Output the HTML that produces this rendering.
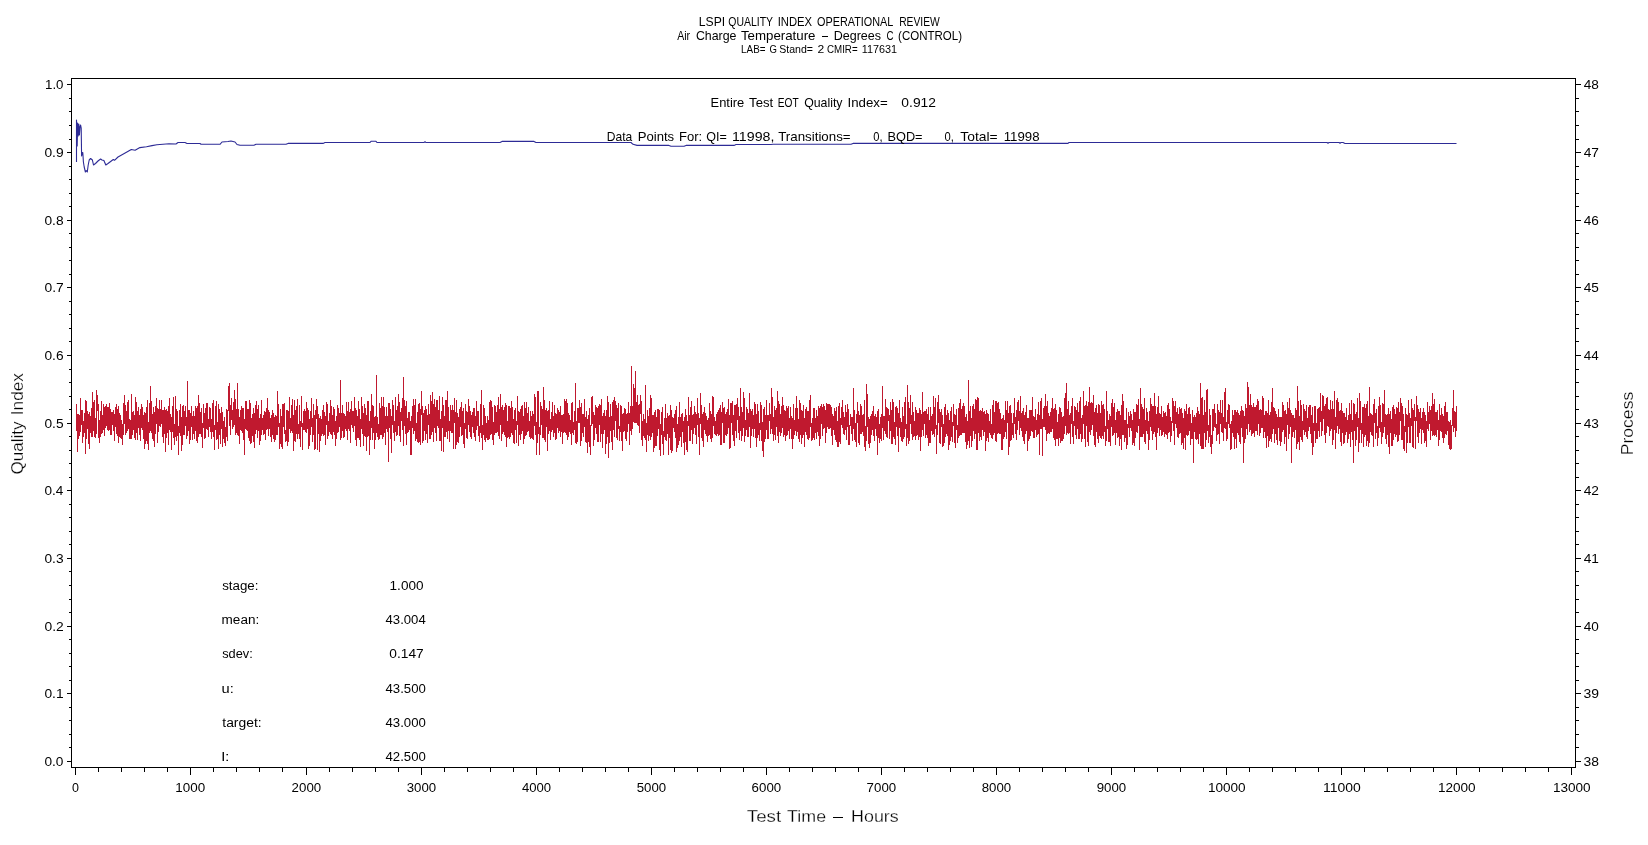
<!DOCTYPE html>
<html><head><meta charset="utf-8"><title>LSPI Quality Index Operational Review</title>
<style>html,body{margin:0;padding:0;background:#fff;overflow:hidden}svg{display:block;will-change:transform}text{font-family:"Liberation Sans",sans-serif;fill:#000}</style>
</head><body>
<svg width="1648" height="845" viewBox="0 0 1648 845">
<rect x="0" y="0" width="1648" height="845" fill="#fff"/>
<path d="M76.5 404V431M77.5 414V452M78.5 414V439M79.5 415V436M80.5 398V432M81.5 410V425M82.5 410V443M83.5 421V437M84.5 413V433M85.5 400V454M86.5 401V439M87.5 411V429M88.5 414V444M89.5 412V449M90.5 416V433M91.5 408V437M92.5 392V437M93.5 402V431M94.5 400V437M95.5 418V438M96.5 390V434M97.5 395V411M98.5 404V438M99.5 420V443M100.5 411V437M101.5 401V434M102.5 415V433M103.5 404V430M104.5 407V436M105.5 406V428M106.5 404V426M107.5 407V430M108.5 407V431M109.5 403V430M110.5 409V435M111.5 412V435M112.5 412V425M113.5 410V431M114.5 414V441M115.5 407V427M116.5 404V434M117.5 409V436M118.5 406V443M119.5 413V437M120.5 415V438M121.5 420V439M122.5 424V445M123.5 403V435M124.5 395V424M125.5 405V435M126.5 411V433M127.5 402V431M128.5 400V429M129.5 419V439M130.5 420V439M131.5 394V439M132.5 412V435M133.5 411V430M134.5 415V438M135.5 397V440M136.5 402V433M137.5 411V440M138.5 407V428M139.5 415V435M140.5 409V441M141.5 404V428M142.5 407V430M143.5 415V439M144.5 412V449M145.5 413V444M146.5 407V441M147.5 400V444M148.5 422V450M149.5 403V433M150.5 386V431M151.5 401V433M152.5 414V439M153.5 407V441M154.5 412V447M155.5 406V434M156.5 398V424M157.5 408V443M158.5 409V432M159.5 400V426M160.5 409V427M161.5 400V424M162.5 410V437M163.5 410V443M164.5 407V434M165.5 410V452M166.5 409V438M167.5 411V433M168.5 406V445M169.5 398V430M170.5 414V432M171.5 417V450M172.5 406V432M173.5 397V438M174.5 424V445M175.5 396V437M176.5 409V441M177.5 411V436M178.5 426V455M179.5 410V433M180.5 404V436M181.5 417V451M182.5 406V445M183.5 405V435M184.5 411V435M185.5 406V426M186.5 417V439M187.5 381V436M188.5 410V431M189.5 410V444M190.5 413V440M191.5 406V427M192.5 416V440M193.5 411V434M194.5 416V439M195.5 406V431M196.5 408V441M197.5 406V443M198.5 395V437M199.5 403V434M200.5 412V434M201.5 408V437M202.5 423V448M203.5 404V428M204.5 413V439M205.5 408V438M206.5 403V429M207.5 403V430M208.5 419V437M209.5 407V427M210.5 408V432M211.5 419V439M212.5 403V432M213.5 400V437M214.5 425V450M215.5 406V430M216.5 401V440M217.5 422V439M218.5 404V449M219.5 409V435M220.5 413V444M221.5 407V429M222.5 412V447M223.5 421V439M224.5 417V443M225.5 427V446M226.5 409V437M227.5 410V441M228.5 386V411M229.5 383V426M230.5 405V435M231.5 398V420M232.5 410V429M233.5 402V427M234.5 390V425M235.5 399V435M236.5 409V433M237.5 383V435M238.5 409V436M239.5 417V444M240.5 410V430M241.5 406V431M242.5 408V433M243.5 408V440M244.5 419V455M245.5 401V429M246.5 401V430M247.5 409V431M248.5 409V438M249.5 400V441M250.5 403V444M251.5 418V443M252.5 414V436M253.5 408V442M254.5 413V448M255.5 405V434M256.5 401V430M257.5 409V438M258.5 405V431M259.5 418V445M260.5 414V441M261.5 400V435M262.5 418V430M263.5 415V435M264.5 411V434M265.5 412V440M266.5 408V430M267.5 398V429M268.5 410V436M269.5 412V429M270.5 418V437M271.5 415V442M272.5 410V435M273.5 413V439M274.5 417V442M275.5 415V440M276.5 416V435M277.5 391V435M278.5 404V427M279.5 423V449M280.5 409V444M281.5 416V447M282.5 404V449M283.5 404V427M284.5 403V434M285.5 430V442M286.5 410V441M287.5 410V446M288.5 411V442M289.5 397V429M290.5 418V433M291.5 405V431M292.5 399V433M293.5 415V451M294.5 400V441M295.5 410V442M296.5 406V434M297.5 399V439M298.5 424V434M299.5 405V439M300.5 421V447M301.5 396V427M302.5 423V450M303.5 411V430M304.5 409V430M305.5 411V432M306.5 402V433M307.5 408V429M308.5 410V449M309.5 419V446M310.5 411V435M311.5 398V427M312.5 418V442M313.5 404V435M314.5 415V450M315.5 410V449M316.5 399V419M317.5 406V450M318.5 414V434M319.5 418V452M320.5 416V441M321.5 419V436M322.5 410V434M323.5 405V436M324.5 412V435M325.5 416V445M326.5 402V425M327.5 404V439M328.5 421V436M329.5 413V432M330.5 400V434M331.5 406V435M332.5 415V439M333.5 407V432M334.5 409V435M335.5 421V446M336.5 416V439M337.5 405V433M338.5 408V432M339.5 413V427M340.5 380V440M341.5 413V438M342.5 405V431M343.5 413V438M344.5 414V437M345.5 416V429M346.5 402V431M347.5 411V440M348.5 402V429M349.5 412V431M350.5 409V443M351.5 401V425M352.5 411V428M353.5 411V432M354.5 397V426M355.5 408V440M356.5 410V446M357.5 416V438M358.5 401V438M359.5 409V440M360.5 419V447M361.5 397V429M362.5 406V434M363.5 413V446M364.5 404V436M365.5 408V437M366.5 415V451M367.5 401V437M368.5 401V436M369.5 421V455M370.5 411V440M371.5 394V428M372.5 405V440M373.5 406V433M374.5 417V449M375.5 416V440M376.5 375V433M377.5 417V437M378.5 424V440M379.5 403V439M380.5 408V435M381.5 397V435M382.5 406V439M383.5 397V437M384.5 407V433M385.5 416V445M386.5 407V429M387.5 416V432M388.5 403V462M389.5 403V428M390.5 409V439M391.5 416V453M392.5 400V425M393.5 405V433M394.5 421V441M395.5 397V432M396.5 410V436M397.5 406V435M398.5 394V426M399.5 402V436M400.5 412V442M401.5 408V421M402.5 398V430M403.5 377V446M404.5 400V426M405.5 406V434M406.5 401V445M407.5 418V433M408.5 412V432M409.5 412V430M410.5 421V455M411.5 416V455M412.5 406V428M413.5 399V434M414.5 405V431M415.5 399V441M416.5 423V439M417.5 412V442M418.5 404V443M419.5 403V442M420.5 409V445M421.5 391V415M422.5 406V443M423.5 413V441M424.5 410V431M425.5 406V440M426.5 409V434M427.5 415V443M428.5 404V425M429.5 414V439M430.5 395V439M431.5 401V435M432.5 392V432M433.5 404V442M434.5 399V428M435.5 407V433M436.5 400V441M437.5 400V426M438.5 410V428M439.5 396V441M440.5 419V441M441.5 411V451M442.5 397V428M443.5 405V452M444.5 416V437M445.5 400V437M446.5 400V432M447.5 391V439M448.5 407V431M449.5 421V442M450.5 405V431M451.5 410V433M452.5 405V433M453.5 410V449M454.5 398V423M455.5 412V449M456.5 400V445M457.5 413V442M458.5 417V443M459.5 409V437M460.5 407V427M461.5 402V436M462.5 411V435M463.5 408V444M464.5 423V448M465.5 404V429M466.5 411V438M467.5 412V439M468.5 399V425M469.5 406V432M470.5 411V437M471.5 415V439M472.5 412V427M473.5 408V433M474.5 408V437M475.5 416V441M476.5 401V430M477.5 411V426M478.5 411V436M479.5 426V442M480.5 404V433M481.5 390V438M482.5 425V450M483.5 405V435M484.5 408V440M485.5 416V442M486.5 423V438M487.5 416V440M488.5 420V440M489.5 402V439M490.5 400V435M491.5 401V434M492.5 407V440M493.5 422V445M494.5 405V435M495.5 406V433M496.5 412V433M497.5 405V432M498.5 397V436M499.5 409V439M500.5 394V425M501.5 407V441M502.5 405V434M503.5 410V432M504.5 407V435M505.5 403V437M506.5 405V447M507.5 421V438M508.5 406V437M509.5 406V439M510.5 408V437M511.5 401V433M512.5 407V435M513.5 419V443M514.5 410V444M515.5 408V430M516.5 421V443M517.5 396V425M518.5 411V446M519.5 412V435M520.5 409V440M521.5 406V434M522.5 405V431M523.5 416V444M524.5 402V439M525.5 408V436M526.5 402V435M527.5 413V432M528.5 407V431M529.5 421V437M530.5 411V439M531.5 416V438M532.5 411V439M533.5 414V440M534.5 394V426M535.5 397V435M536.5 422V455M537.5 391V443M538.5 391V434M539.5 427V455M540.5 402V435M541.5 406V425M542.5 409V438M543.5 387V438M544.5 400V440M545.5 410V442M546.5 408V427M547.5 411V451M548.5 410V434M549.5 401V431M550.5 419V440M551.5 412V432M552.5 402V430M553.5 416V437M554.5 405V433M555.5 413V440M556.5 414V439M557.5 408V428M558.5 410V433M559.5 412V431M560.5 406V437M561.5 415V432M562.5 415V444M563.5 414V433M564.5 399V432M565.5 401V433M566.5 399V435M567.5 403V440M568.5 413V437M569.5 415V432M570.5 420V434M571.5 403V445M572.5 402V433M573.5 422V435M574.5 411V430M575.5 383V443M576.5 421V444M577.5 408V442M578.5 408V423M579.5 400V423M580.5 407V446M581.5 403V441M582.5 414V433M583.5 414V437M584.5 399V427M585.5 417V442M586.5 411V443M587.5 419V453M588.5 415V442M589.5 408V447M590.5 425V455M591.5 397V426M592.5 396V424M593.5 412V446M594.5 415V440M595.5 405V428M596.5 407V434M597.5 408V442M598.5 406V442M599.5 404V425M600.5 405V442M601.5 399V434M602.5 416V448M603.5 413V434M604.5 410V430M605.5 416V454M606.5 410V444M607.5 396V437M608.5 402V458M609.5 417V443M610.5 404V431M611.5 416V442M612.5 402V450M613.5 400V430M614.5 397V437M615.5 401V421M616.5 405V438M617.5 408V440M618.5 403V429M619.5 426V441M620.5 405V432M621.5 406V441M622.5 414V451M623.5 413V432M624.5 408V431M625.5 409V439M626.5 414V441M627.5 413V432M628.5 402V424M629.5 413V445M630.5 406V431M631.5 366V435M632.5 406V429M633.5 384V422M634.5 388V423M635.5 371V423M636.5 402V423M637.5 395V425M638.5 405V426M639.5 404V433M640.5 395V414M641.5 401V440M642.5 421V446M643.5 414V436M644.5 419V438M645.5 385V440M646.5 423V452M647.5 410V435M648.5 416V441M649.5 408V436M650.5 395V440M651.5 398V437M652.5 415V433M653.5 415V452M654.5 412V448M655.5 410V446M656.5 417V446M657.5 409V436M658.5 409V429M659.5 410V450M660.5 424V456M661.5 412V435M662.5 407V444M663.5 431V455M664.5 418V437M665.5 404V440M666.5 418V441M667.5 413V434M668.5 416V455M669.5 415V438M670.5 405V450M671.5 410V453M672.5 417V451M673.5 418V428M674.5 414V432M675.5 410V438M676.5 406V452M677.5 424V448M678.5 417V445M679.5 402V441M680.5 417V437M681.5 414V447M682.5 413V432M683.5 421V443M684.5 417V455M685.5 409V442M686.5 415V450M687.5 421V452M688.5 397V426M689.5 415V441M690.5 407V441M691.5 401V430M692.5 415V444M693.5 414V434M694.5 406V428M695.5 412V435M696.5 414V444M697.5 398V425M698.5 413V437M699.5 418V455M700.5 393V424M701.5 405V438M702.5 414V441M703.5 412V447M704.5 407V430M705.5 413V434M706.5 416V436M707.5 420V442M708.5 418V436M709.5 403V435M710.5 411V439M711.5 414V442M712.5 396V438M713.5 397V426M714.5 417V434M715.5 421V435M716.5 414V436M717.5 412V434M718.5 410V436M719.5 408V435M720.5 405V445M721.5 412V445M722.5 402V423M723.5 408V443M724.5 407V443M725.5 414V435M726.5 412V436M727.5 409V434M728.5 399V428M729.5 415V449M730.5 403V448M731.5 403V423M732.5 401V435M733.5 415V441M734.5 405V446M735.5 405V431M736.5 404V438M737.5 398V420M738.5 407V433M739.5 416V440M740.5 388V431M741.5 407V441M742.5 412V436M743.5 392V428M744.5 398V442M745.5 420V436M746.5 407V430M747.5 409V437M748.5 413V437M749.5 393V427M750.5 409V448M751.5 411V436M752.5 409V429M753.5 415V437M754.5 402V429M755.5 404V438M756.5 414V447M757.5 404V438M758.5 411V435M759.5 423V441M760.5 402V430M761.5 405V441M762.5 422V451M763.5 409V457M764.5 407V442M765.5 415V439M766.5 400V430M767.5 415V439M768.5 415V439M769.5 403V421M770.5 414V434M771.5 388V429M772.5 397V434M773.5 417V441M774.5 406V435M775.5 410V440M776.5 408V427M777.5 391V436M778.5 401V443M779.5 404V432M780.5 414V436M781.5 406V433M782.5 397V428M783.5 405V437M784.5 410V435M785.5 411V441M786.5 406V436M787.5 408V435M788.5 406V431M789.5 418V439M790.5 407V429M791.5 416V439M792.5 418V449M793.5 404V439M794.5 420V435M795.5 408V431M796.5 396V436M797.5 408V432M798.5 419V439M799.5 400V442M800.5 403V435M801.5 410V444M802.5 411V438M803.5 405V435M804.5 418V447M805.5 409V432M806.5 407V435M807.5 411V439M808.5 411V440M809.5 400V438M810.5 395V427M811.5 423V441M812.5 418V440M813.5 408V438M814.5 408V440M815.5 418V433M816.5 410V439M817.5 416V432M818.5 406V436M819.5 408V446M820.5 406V439M821.5 404V424M822.5 407V436M823.5 404V429M824.5 406V428M825.5 410V443M826.5 403V433M827.5 404V427M828.5 404V429M829.5 404V429M830.5 405V428M831.5 407V436M832.5 414V445M833.5 416V430M834.5 408V435M835.5 411V440M836.5 407V442M837.5 421V447M838.5 406V447M839.5 403V442M840.5 418V444M841.5 407V425M842.5 400V428M843.5 412V434M844.5 417V435M845.5 405V430M846.5 412V440M847.5 404V427M848.5 409V445M849.5 425V445M850.5 414V426M851.5 417V434M852.5 417V441M853.5 388V429M854.5 410V440M855.5 423V442M856.5 414V447M857.5 402V423M858.5 411V443M859.5 415V445M860.5 404V434M861.5 406V434M862.5 415V432M863.5 414V436M864.5 400V447M865.5 426V451M866.5 384V441M867.5 394V427M868.5 417V444M869.5 419V448M870.5 416V443M871.5 414V435M872.5 411V430M873.5 406V436M874.5 416V441M875.5 414V429M876.5 417V436M877.5 411V455M878.5 409V438M879.5 424V443M880.5 417V439M881.5 414V441M882.5 386V428M883.5 416V440M884.5 416V431M885.5 399V434M886.5 407V437M887.5 408V438M888.5 409V421M889.5 415V439M890.5 402V431M891.5 410V444M892.5 399V444M893.5 402V437M894.5 422V439M895.5 407V445M896.5 406V427M897.5 408V436M898.5 413V452M899.5 400V428M900.5 418V437M901.5 422V441M902.5 407V442M903.5 416V439M904.5 402V437M905.5 397V429M906.5 424V446M907.5 385V438M908.5 402V444M909.5 408V441M910.5 395V424M911.5 415V434M912.5 402V440M913.5 412V437M914.5 421V436M915.5 407V440M916.5 410V436M917.5 413V435M918.5 413V440M919.5 408V437M920.5 410V451M921.5 414V437M922.5 392V430M923.5 412V436M924.5 411V424M925.5 411V438M926.5 409V435M927.5 414V438M928.5 407V446M929.5 420V443M930.5 407V443M931.5 416V431M932.5 414V435M933.5 396V434M934.5 407V437M935.5 398V429M936.5 425V454M937.5 402V435M938.5 395V423M939.5 409V443M940.5 412V444M941.5 409V427M942.5 415V447M943.5 424V446M944.5 407V443M945.5 404V437M946.5 415V434M947.5 410V436M948.5 413V450M949.5 420V445M950.5 411V441M951.5 407V437M952.5 422V442M953.5 404V426M954.5 414V443M955.5 415V448M956.5 409V430M957.5 425V443M958.5 408V438M959.5 403V436M960.5 399V435M961.5 409V435M962.5 406V433M963.5 403V433M964.5 406V433M965.5 417V442M966.5 414V449M967.5 421V445M968.5 380V441M969.5 411V448M970.5 406V436M971.5 418V447M972.5 406V441M973.5 404V431M974.5 409V439M975.5 399V434M976.5 400V450M977.5 397V450M978.5 398V433M979.5 411V441M980.5 410V437M981.5 411V440M982.5 408V430M983.5 412V436M984.5 411V432M985.5 414V451M986.5 410V441M987.5 413V438M988.5 414V442M989.5 421V433M990.5 409V435M991.5 424V438M992.5 405V439M993.5 400V435M994.5 412V433M995.5 401V441M996.5 401V442M997.5 403V434M998.5 402V433M999.5 409V434M1000.5 413V434M1001.5 419V450M1002.5 418V450M1003.5 415V439M1004.5 420V437M1005.5 401V432M1006.5 410V439M1007.5 401V423M1008.5 413V455M1009.5 406V447M1010.5 405V441M1011.5 413V440M1012.5 423V435M1013.5 413V438M1014.5 398V424M1015.5 417V434M1016.5 410V440M1017.5 402V430M1018.5 400V421M1019.5 411V435M1020.5 396V428M1021.5 413V431M1022.5 411V437M1023.5 408V441M1024.5 415V444M1025.5 412V434M1026.5 405V431M1027.5 418V451M1028.5 418V441M1029.5 410V439M1030.5 410V436M1031.5 410V431M1032.5 397V432M1033.5 416V438M1034.5 417V438M1035.5 409V430M1036.5 420V437M1037.5 414V435M1038.5 402V434M1039.5 415V455M1040.5 401V429M1041.5 398V429M1042.5 419V456M1043.5 408V427M1044.5 406V427M1045.5 394V430M1046.5 406V441M1047.5 401V434M1048.5 413V433M1049.5 416V434M1050.5 412V432M1051.5 408V432M1052.5 398V429M1053.5 409V438M1054.5 408V440M1055.5 404V446M1056.5 410V439M1057.5 422V439M1058.5 414V446M1059.5 407V438M1060.5 408V443M1061.5 412V441M1062.5 417V441M1063.5 416V439M1064.5 398V434M1065.5 393V426M1066.5 383V435M1067.5 409V433M1068.5 401V434M1069.5 415V433M1070.5 413V444M1071.5 406V424M1072.5 398V437M1073.5 421V444M1074.5 406V426M1075.5 407V435M1076.5 410V439M1077.5 403V429M1078.5 412V439M1079.5 401V439M1080.5 397V434M1081.5 418V442M1082.5 415V439M1083.5 391V424M1084.5 406V439M1085.5 405V447M1086.5 401V426M1087.5 406V442M1088.5 402V446M1089.5 387V432M1090.5 403V435M1091.5 402V430M1092.5 403V425M1093.5 395V436M1094.5 412V445M1095.5 408V447M1096.5 405V432M1097.5 413V439M1098.5 404V443M1099.5 405V436M1100.5 413V438M1101.5 401V439M1102.5 405V436M1103.5 404V439M1104.5 409V432M1105.5 426V446M1106.5 391V441M1107.5 411V429M1108.5 420V442M1109.5 414V442M1110.5 416V446M1111.5 403V427M1112.5 399V436M1113.5 407V435M1114.5 403V433M1115.5 420V445M1116.5 412V433M1117.5 409V438M1118.5 411V437M1119.5 411V446M1120.5 415V439M1121.5 405V450M1122.5 394V435M1123.5 401V435M1124.5 420V442M1125.5 420V438M1126.5 408V449M1127.5 424V445M1128.5 412V428M1129.5 416V437M1130.5 411V428M1131.5 414V431M1132.5 420V445M1133.5 409V443M1134.5 412V446M1135.5 412V438M1136.5 404V432M1137.5 405V433M1138.5 399V426M1139.5 419V450M1140.5 388V437M1141.5 404V437M1142.5 407V437M1143.5 409V434M1144.5 398V442M1145.5 420V444M1146.5 408V431M1147.5 412V434M1148.5 421V450M1149.5 411V440M1150.5 398V427M1151.5 404V431M1152.5 406V440M1153.5 406V434M1154.5 393V432M1155.5 406V437M1156.5 414V450M1157.5 407V433M1158.5 396V428M1159.5 413V436M1160.5 414V430M1161.5 406V436M1162.5 417V435M1163.5 411V432M1164.5 413V437M1165.5 412V434M1166.5 416V435M1167.5 405V439M1168.5 403V433M1169.5 409V432M1170.5 417V442M1171.5 421V436M1172.5 398V423M1173.5 401V431M1174.5 406V445M1175.5 401V424M1176.5 412V428M1177.5 408V437M1178.5 414V438M1179.5 407V434M1180.5 409V433M1181.5 408V445M1182.5 413V443M1183.5 418V449M1184.5 409V438M1185.5 411V450M1186.5 404V435M1187.5 414V436M1188.5 408V435M1189.5 407V431M1190.5 414V445M1191.5 423V439M1192.5 410V439M1193.5 417V463M1194.5 415V432M1195.5 417V439M1196.5 413V440M1197.5 407V439M1198.5 411V444M1199.5 414V434M1200.5 383V446M1201.5 398V449M1202.5 397V449M1203.5 415V449M1204.5 400V433M1205.5 412V447M1206.5 390V440M1207.5 389V431M1208.5 425V443M1209.5 409V437M1210.5 415V447M1211.5 435V454M1212.5 409V444M1213.5 409V431M1214.5 404V427M1215.5 413V428M1216.5 424V441M1217.5 404V435M1218.5 410V434M1219.5 412V444M1220.5 400V424M1221.5 413V432M1222.5 400V433M1223.5 417V441M1224.5 392V428M1225.5 388V429M1226.5 422V441M1227.5 410V439M1228.5 404V424M1229.5 405V428M1230.5 424V450M1231.5 421V449M1232.5 410V433M1233.5 415V437M1234.5 410V449M1235.5 410V439M1236.5 412V448M1237.5 410V433M1238.5 413V435M1239.5 415V442M1240.5 411V444M1241.5 406V428M1242.5 410V437M1243.5 411V463M1244.5 416V443M1245.5 404V439M1246.5 408V429M1247.5 382V435M1248.5 387V424M1249.5 405V432M1250.5 394V430M1251.5 405V436M1252.5 407V434M1253.5 403V433M1254.5 407V437M1255.5 407V431M1256.5 405V431M1257.5 399V435M1258.5 401V424M1259.5 410V436M1260.5 409V433M1261.5 410V428M1262.5 396V428M1263.5 398V438M1264.5 415V432M1265.5 411V438M1266.5 411V448M1267.5 413V436M1268.5 400V447M1269.5 415V441M1270.5 412V439M1271.5 402V442M1272.5 388V434M1273.5 407V429M1274.5 408V443M1275.5 411V434M1276.5 414V440M1277.5 417V445M1278.5 409V428M1279.5 417V441M1280.5 417V446M1281.5 417V442M1282.5 402V432M1283.5 405V430M1284.5 411V444M1285.5 410V437M1286.5 414V451M1287.5 402V425M1288.5 408V439M1289.5 398V434M1290.5 410V427M1291.5 413V463M1292.5 415V437M1293.5 415V432M1294.5 418V438M1295.5 408V430M1296.5 410V449M1297.5 386V444M1298.5 401V442M1299.5 416V450M1300.5 400V437M1301.5 405V440M1302.5 421V442M1303.5 404V430M1304.5 409V435M1305.5 411V432M1306.5 405V437M1307.5 418V439M1308.5 407V431M1309.5 405V427M1310.5 405V434M1311.5 415V443M1312.5 407V455M1313.5 423V447M1314.5 406V431M1315.5 406V443M1316.5 423V439M1317.5 409V439M1318.5 408V431M1319.5 407V437M1320.5 393V422M1321.5 411V436M1322.5 395V431M1323.5 396V419M1324.5 406V435M1325.5 404V443M1326.5 398V433M1327.5 397V426M1328.5 409V427M1329.5 410V436M1330.5 400V431M1331.5 409V429M1332.5 401V445M1333.5 409V440M1334.5 391V430M1335.5 417V449M1336.5 400V433M1337.5 398V426M1338.5 402V434M1339.5 411V429M1340.5 410V442M1341.5 403V446M1342.5 411V433M1343.5 413V444M1344.5 413V443M1345.5 417V435M1346.5 408V432M1347.5 420V443M1348.5 415V439M1349.5 403V434M1350.5 414V447M1351.5 400V432M1352.5 420V440M1353.5 403V463M1354.5 404V431M1355.5 414V446M1356.5 412V440M1357.5 398V427M1358.5 418V452M1359.5 393V443M1360.5 401V430M1361.5 423V443M1362.5 407V434M1363.5 407V447M1364.5 404V437M1365.5 408V435M1366.5 404V446M1367.5 401V441M1368.5 416V447M1369.5 387V443M1370.5 413V432M1371.5 414V435M1372.5 415V436M1373.5 404V447M1374.5 399V423M1375.5 413V439M1376.5 409V433M1377.5 426V446M1378.5 406V438M1379.5 397V428M1380.5 405V432M1381.5 422V444M1382.5 403V437M1383.5 404V433M1384.5 390V427M1385.5 414V439M1386.5 415V444M1387.5 414V435M1388.5 408V447M1389.5 414V454M1390.5 411V433M1391.5 419V446M1392.5 407V446M1393.5 405V440M1394.5 409V434M1395.5 414V437M1396.5 407V435M1397.5 408V442M1398.5 402V441M1399.5 412V435M1400.5 398V421M1401.5 403V440M1402.5 406V440M1403.5 414V449M1404.5 426V451M1405.5 408V432M1406.5 414V453M1407.5 415V443M1408.5 400V427M1409.5 413V443M1410.5 418V443M1411.5 399V426M1412.5 408V447M1413.5 410V448M1414.5 404V421M1415.5 417V449M1416.5 396V421M1417.5 405V437M1418.5 409V443M1419.5 412V433M1420.5 408V429M1421.5 418V444M1422.5 412V430M1423.5 408V433M1424.5 412V443M1425.5 415V441M1426.5 421V447M1427.5 402V429M1428.5 412V431M1429.5 406V424M1430.5 410V440M1431.5 406V431M1432.5 393V436M1433.5 404V435M1434.5 399V436M1435.5 412V435M1436.5 412V437M1437.5 410V430M1438.5 420V446M1439.5 404V440M1440.5 415V431M1441.5 408V432M1442.5 414V438M1443.5 416V443M1444.5 406V438M1445.5 402V434M1446.5 412V435M1447.5 412V431M1448.5 421V445M1449.5 422V449M1450.5 420V450M1451.5 425V449M1452.5 408V426M1453.5 390V432M1454.5 411V428M1455.5 412V437M1456.5 406V431" stroke="#C0192F" stroke-width="1" fill="none" shape-rendering="crispEdges"/>
<polyline fill="none" stroke="#2D2B96" stroke-width="1.1" stroke-linejoin="round" points="76.5,162 76.5,120 77.2,146 77.6,123 78.2,136 78.8,124 79.4,135 80.0,127 80.6,125 81.2,128 81.6,156 82.2,153 82.8,152.5 83.4,162 84.2,167 85.4,172 86.2,170.5 87.3,172 88.2,165 89.2,160 90.6,158.5 92.4,160 93.5,165 95.5,163.5 98,161 100.6,159 102,160 103.9,160.5 105.8,165 108,163.5 113.3,159.5 114.5,160.3 118,157 124.7,153.3 131.3,149.5 135.1,150.3 139.9,147.6 146.5,146.7 152,145.6 156.9,144.8 163,144.2 169,143.8 176,144 178,142.5 185,142.5 187,143.5 200,143.5 201,144.3 220,144.3 222,142 228,141.5 231,141 235,142 237,144.5 240,145.3 254,145.3 256,144.2 286,144.2 288,143.4 323,143.4 325,142.5 370,142.5 371,141.3 376,141.3 377,142.5 424,142.5 425,141.8 426,142.5 500,142.5 502,141.4 534,141.4 536,142.5 631,142.5 633,144.3 637,145.4 669,145.4 671,146.3 684,146.3 686,145.4 734,145.4 736,144.5 771,144.5 773,144.3 851,144.3 853,143.4 1068,143.4 1069,142.5 1327,142.5 1328,143.2 1329,142.5 1339,142.5 1340,143.2 1341,142.5 1343,142.5 1345,143.5 1456.5,143.5"/>
<g shape-rendering="crispEdges" stroke="#000" stroke-width="1" fill="none">
<path d="M71.5 78V768M1575.5 78V768M71 78.5H1576M71 767.5H1576"/>
<path d="M67 761.5H71M1576 761.5H1581M69 747.5H71M1576 747.5H1579M69 734.5H71M1576 734.5H1579M69 720.5H71M1576 720.5H1579M69 707.5H71M1576 707.5H1579M67 693.5H71M1576 693.5H1581M69 680.5H71M1576 680.5H1579M69 666.5H71M1576 666.5H1579M69 653.5H71M1576 653.5H1579M69 639.5H71M1576 639.5H1579M67 626.5H71M1576 626.5H1581M69 612.5H71M1576 612.5H1579M69 599.5H71M1576 599.5H1579M69 585.5H71M1576 585.5H1579M69 571.5H71M1576 571.5H1579M67 558.5H71M1576 558.5H1581M69 544.5H71M1576 544.5H1579M69 531.5H71M1576 531.5H1579M69 517.5H71M1576 517.5H1579M69 504.5H71M1576 504.5H1579M67 490.5H71M1576 490.5H1581M69 477.5H71M1576 477.5H1579M69 463.5H71M1576 463.5H1579M69 450.5H71M1576 450.5H1579M69 436.5H71M1576 436.5H1579M67 423.5H71M1576 423.5H1581M69 409.5H71M1576 409.5H1579M69 396.5H71M1576 396.5H1579M69 382.5H71M1576 382.5H1579M69 369.5H71M1576 369.5H1579M67 355.5H71M1576 355.5H1581M69 341.5H71M1576 341.5H1579M69 328.5H71M1576 328.5H1579M69 314.5H71M1576 314.5H1579M69 301.5H71M1576 301.5H1579M67 287.5H71M1576 287.5H1581M69 274.5H71M1576 274.5H1579M69 260.5H71M1576 260.5H1579M69 247.5H71M1576 247.5H1579M69 233.5H71M1576 233.5H1579M67 220.5H71M1576 220.5H1581M69 206.5H71M1576 206.5H1579M69 193.5H71M1576 193.5H1579M69 179.5H71M1576 179.5H1579M69 166.5H71M1576 166.5H1579M67 152.5H71M1576 152.5H1581M69 139.5H71M1576 139.5H1579M69 125.5H71M1576 125.5H1579M69 111.5H71M1576 111.5H1579M69 98.5H71M1576 98.5H1579M67 84.5H71M1576 84.5H1581M75.5 768V775M98.5 768V772M121.5 768V772M144.5 768V772M167.5 768V772M190.5 768V775M213.5 768V772M236.5 768V772M259.5 768V772M282.5 768V772M306.5 768V775M329.5 768V772M352.5 768V772M375.5 768V772M398.5 768V772M421.5 768V775M444.5 768V772M467.5 768V772M490.5 768V772M513.5 768V772M536.5 768V775M559.5 768V772M582.5 768V772M605.5 768V772M628.5 768V772M651.5 768V775M674.5 768V772M697.5 768V772M720.5 768V772M743.5 768V772M766.5 768V775M789.5 768V772M812.5 768V772M835.5 768V772M858.5 768V772M881.5 768V775M904.5 768V772M927.5 768V772M950.5 768V772M973.5 768V772M996.5 768V775M1019.5 768V772M1042.5 768V772M1065.5 768V772M1088.5 768V772M1111.5 768V775M1134.5 768V772M1157.5 768V772M1180.5 768V772M1203.5 768V772M1226.5 768V775M1249.5 768V772M1272.5 768V772M1295.5 768V772M1318.5 768V772M1341.5 768V775M1364.5 768V772M1387.5 768V772M1410.5 768V772M1433.5 768V772M1456.5 768V775M1479.5 768V772M1502.5 768V772M1525.5 768V772M1548.5 768V772M1571.5 768V775"/>
</g>
<text x="44.45" y="766" font-size="13" textLength="19.03" lengthAdjust="spacingAndGlyphs">0.0</text>
<text x="44.45" y="698" font-size="13" textLength="19.17" lengthAdjust="spacingAndGlyphs">0.1</text>
<text x="44.45" y="631" font-size="13" textLength="19.25" lengthAdjust="spacingAndGlyphs">0.2</text>
<text x="44.45" y="563" font-size="13" textLength="19.10" lengthAdjust="spacingAndGlyphs">0.3</text>
<text x="44.46" y="495" font-size="13" textLength="18.89" lengthAdjust="spacingAndGlyphs">0.4</text>
<text x="44.45" y="428" font-size="13" textLength="19.10" lengthAdjust="spacingAndGlyphs">0.5</text>
<text x="44.45" y="360" font-size="13" textLength="19.10" lengthAdjust="spacingAndGlyphs">0.6</text>
<text x="44.45" y="292" font-size="13" textLength="19.25" lengthAdjust="spacingAndGlyphs">0.7</text>
<text x="44.45" y="225" font-size="13" textLength="19.10" lengthAdjust="spacingAndGlyphs">0.8</text>
<text x="44.45" y="157" font-size="13" textLength="19.17" lengthAdjust="spacingAndGlyphs">0.9</text>
<text x="45.00" y="89" font-size="13" textLength="18.46" lengthAdjust="spacingAndGlyphs">1.0</text>
<text x="1583.44" y="766" font-size="13" textLength="15.44" lengthAdjust="spacingAndGlyphs">38</text>
<text x="1583.44" y="698" font-size="13" textLength="15.52" lengthAdjust="spacingAndGlyphs">39</text>
<text x="1583.73" y="631" font-size="13" textLength="15.08" lengthAdjust="spacingAndGlyphs">40</text>
<text x="1583.73" y="563" font-size="13" textLength="15.22" lengthAdjust="spacingAndGlyphs">41</text>
<text x="1583.72" y="495" font-size="13" textLength="15.29" lengthAdjust="spacingAndGlyphs">42</text>
<text x="1583.73" y="428" font-size="13" textLength="15.15" lengthAdjust="spacingAndGlyphs">43</text>
<text x="1583.73" y="360" font-size="13" textLength="14.94" lengthAdjust="spacingAndGlyphs">44</text>
<text x="1583.73" y="292" font-size="13" textLength="15.15" lengthAdjust="spacingAndGlyphs">45</text>
<text x="1583.73" y="225" font-size="13" textLength="15.15" lengthAdjust="spacingAndGlyphs">46</text>
<text x="1583.72" y="157" font-size="13" textLength="15.29" lengthAdjust="spacingAndGlyphs">47</text>
<text x="1583.73" y="89" font-size="13" textLength="15.15" lengthAdjust="spacingAndGlyphs">48</text>
<text x="72.00" y="792" font-size="13" textLength="6.95" lengthAdjust="spacingAndGlyphs">0</text>
<text x="175.29" y="792" font-size="13" textLength="29.87" lengthAdjust="spacingAndGlyphs">1000</text>
<text x="291.64" y="792" font-size="13" textLength="29.52" lengthAdjust="spacingAndGlyphs">2000</text>
<text x="406.77" y="792" font-size="13" textLength="29.39" lengthAdjust="spacingAndGlyphs">3000</text>
<text x="522.04" y="792" font-size="13" textLength="29.12" lengthAdjust="spacingAndGlyphs">4000</text>
<text x="636.77" y="792" font-size="13" textLength="29.39" lengthAdjust="spacingAndGlyphs">5000</text>
<text x="751.64" y="792" font-size="13" textLength="29.52" lengthAdjust="spacingAndGlyphs">6000</text>
<text x="866.64" y="792" font-size="13" textLength="29.52" lengthAdjust="spacingAndGlyphs">7000</text>
<text x="981.77" y="792" font-size="13" textLength="29.39" lengthAdjust="spacingAndGlyphs">8000</text>
<text x="1096.70" y="792" font-size="13" textLength="29.46" lengthAdjust="spacingAndGlyphs">9000</text>
<text x="1207.98" y="792" font-size="13" textLength="37.70" lengthAdjust="spacingAndGlyphs">10000</text>
<text x="1322.95" y="792" font-size="13" textLength="37.76" lengthAdjust="spacingAndGlyphs">11000</text>
<text x="1437.98" y="792" font-size="13" textLength="37.70" lengthAdjust="spacingAndGlyphs">12000</text>
<text x="1552.98" y="792" font-size="13" textLength="37.70" lengthAdjust="spacingAndGlyphs">13000</text>
<text x="698.78" y="26" font-size="12.6" textLength="26.35" lengthAdjust="spacingAndGlyphs">LSPI</text>
<text x="728.28" y="26" font-size="12.6" textLength="44.72" lengthAdjust="spacingAndGlyphs">QUALITY</text>
<text x="777.74" y="26" font-size="12.6" textLength="34.40" lengthAdjust="spacingAndGlyphs">INDEX</text>
<text x="817.01" y="26" font-size="12.6" textLength="76.40" lengthAdjust="spacingAndGlyphs">OPERATIONAL</text>
<text x="899.18" y="26" font-size="12.6" textLength="40.62" lengthAdjust="spacingAndGlyphs">REVIEW</text>
<text x="677.25" y="40" font-size="13" textLength="12.88" lengthAdjust="spacingAndGlyphs">Air</text>
<text x="695.88" y="40" font-size="13" textLength="40.61" lengthAdjust="spacingAndGlyphs">Charge</text>
<text x="740.98" y="40" font-size="13" textLength="74.53" lengthAdjust="spacingAndGlyphs">Temperature</text>
<text x="833.75" y="40" font-size="13" textLength="47.29" lengthAdjust="spacingAndGlyphs">Degrees</text>
<text x="886.41" y="40" font-size="13" textLength="7.05" lengthAdjust="spacingAndGlyphs">C</text>
<text x="898.06" y="40" font-size="13" textLength="63.94" lengthAdjust="spacingAndGlyphs">(CONTROL)</text>
<path d="M822 36.5H828" stroke="#000" stroke-width="1" shape-rendering="crispEdges"/>
<text x="741.11" y="53" font-size="10.2" textLength="24.37" lengthAdjust="spacingAndGlyphs">LAB=</text>
<text x="769.52" y="53" font-size="10.2" textLength="7.42" lengthAdjust="spacingAndGlyphs">G</text>
<text x="779.28" y="53" font-size="10.2" textLength="33.72" lengthAdjust="spacingAndGlyphs">Stand=</text>
<text x="817.50" y="53" font-size="10.2" textLength="6.72" lengthAdjust="spacingAndGlyphs">2</text>
<text x="827.01" y="53" font-size="10.2" textLength="30.57" lengthAdjust="spacingAndGlyphs">CMIR=</text>
<text x="861.69" y="53" font-size="10.2" textLength="35.33" lengthAdjust="spacingAndGlyphs">117631</text>
<text x="710.57" y="107" font-size="13" textLength="33.73" lengthAdjust="spacingAndGlyphs">Entire</text>
<text x="749.14" y="107" font-size="13" textLength="24.08" lengthAdjust="spacingAndGlyphs">Test</text>
<text x="777.79" y="107" font-size="13" textLength="20.93" lengthAdjust="spacingAndGlyphs">EOT</text>
<text x="804.20" y="107" font-size="13" textLength="38.33" lengthAdjust="spacingAndGlyphs">Quality</text>
<text x="847.56" y="107" font-size="13" textLength="40.21" lengthAdjust="spacingAndGlyphs">Index=</text>
<text x="901.35" y="107" font-size="13" textLength="34.63" lengthAdjust="spacingAndGlyphs">0.912</text>
<text x="606.78" y="141" font-size="13" textLength="25.49" lengthAdjust="spacingAndGlyphs">Data</text>
<text x="637.70" y="141" font-size="13" textLength="36.50" lengthAdjust="spacingAndGlyphs">Points</text>
<text x="678.96" y="141" font-size="13" textLength="23.19" lengthAdjust="spacingAndGlyphs">For:</text>
<text x="706.34" y="141" font-size="13" textLength="20.53" lengthAdjust="spacingAndGlyphs">QI=</text>
<text x="732.04" y="141" font-size="13" textLength="42.33" lengthAdjust="spacingAndGlyphs">11998,</text>
<text x="778.23" y="141" font-size="13" textLength="72.40" lengthAdjust="spacingAndGlyphs">Transitions=</text>
<text x="873.30" y="141" font-size="13" textLength="9.29" lengthAdjust="spacingAndGlyphs">0,</text>
<text x="887.48" y="141" font-size="13" textLength="35.07" lengthAdjust="spacingAndGlyphs">BQD=</text>
<text x="944.55" y="141" font-size="13" textLength="9.35" lengthAdjust="spacingAndGlyphs">0,</text>
<text x="960.32" y="141" font-size="13" textLength="37.29" lengthAdjust="spacingAndGlyphs">Total=</text>
<text x="1003.76" y="141" font-size="13" textLength="35.79" lengthAdjust="spacingAndGlyphs">11998</text>
<text x="222.17" y="590" font-size="12.5" textLength="36.32" lengthAdjust="spacingAndGlyphs">stage:</text>
<text x="389.58" y="590" font-size="13" textLength="33.93" lengthAdjust="spacingAndGlyphs">1.000</text>
<text x="221.62" y="624" font-size="12.5" textLength="37.59" lengthAdjust="spacingAndGlyphs">mean:</text>
<text x="385.54" y="624" font-size="13" textLength="40.17" lengthAdjust="spacingAndGlyphs">43.004</text>
<text x="222.18" y="658" font-size="12.5" textLength="30.57" lengthAdjust="spacingAndGlyphs">sdev:</text>
<text x="389.35" y="658" font-size="13" textLength="34.37" lengthAdjust="spacingAndGlyphs">0.147</text>
<text x="221.54" y="693" font-size="12.5" textLength="12.26" lengthAdjust="spacingAndGlyphs">u:</text>
<text x="385.54" y="693" font-size="13" textLength="40.31" lengthAdjust="spacingAndGlyphs">43.500</text>
<text x="222.29" y="727" font-size="12.5" textLength="39.36" lengthAdjust="spacingAndGlyphs">target:</text>
<text x="385.54" y="727" font-size="13" textLength="40.31" lengthAdjust="spacingAndGlyphs">43.000</text>
<text x="221.46" y="761" font-size="12.5" textLength="7.97" lengthAdjust="spacingAndGlyphs">l:</text>
<text x="385.54" y="761" font-size="13" textLength="40.31" lengthAdjust="spacingAndGlyphs">42.500</text>
<text x="746.88" y="822" font-size="17.4" textLength="34.29" lengthAdjust="spacingAndGlyphs" fill="#000" stroke="#fff" stroke-width="0.26">Test</text>
<text x="787.14" y="822" font-size="17.4" textLength="38.97" lengthAdjust="spacingAndGlyphs" fill="#000" stroke="#fff" stroke-width="0.26">Time</text>
<text x="851.07" y="822" font-size="17.4" textLength="47.61" lengthAdjust="spacingAndGlyphs" fill="#000" stroke="#fff" stroke-width="0.26">Hours</text>
<path d="M833 817.5H843" stroke="#000" stroke-width="1" shape-rendering="crispEdges"/>
<text transform="translate(23,474.57) rotate(-90)" font-size="17.4" textLength="53.11" lengthAdjust="spacingAndGlyphs" fill="#000" stroke="#fff" stroke-width="0.26">Quality</text>
<text transform="translate(23,415.25) rotate(-90)" font-size="17.4" textLength="42.25" lengthAdjust="spacingAndGlyphs" fill="#000" stroke="#fff" stroke-width="0.26">Index</text>
<text transform="translate(1633,455.31) rotate(-90)" font-size="17.4" textLength="63.57" lengthAdjust="spacingAndGlyphs" fill="#000" stroke="#fff" stroke-width="0.26">Process</text>
</svg></body></html>
